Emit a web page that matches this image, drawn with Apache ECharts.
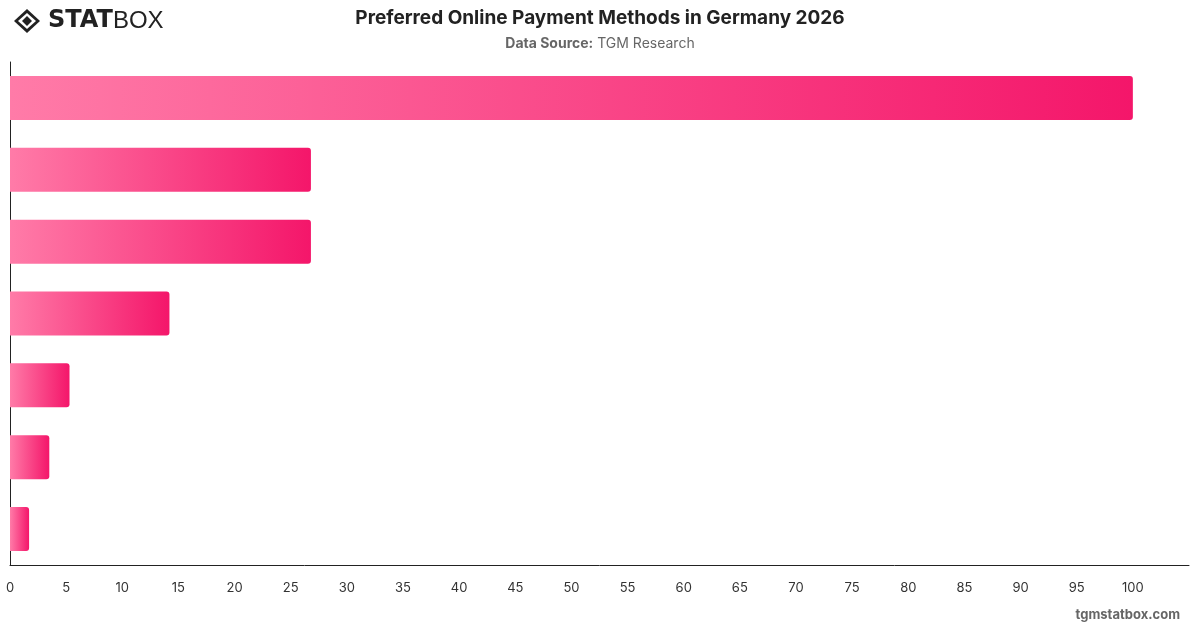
<!DOCTYPE html>
<html>
<head>
<meta charset="utf-8">
<script src="https://cdn.jsdelivr.net/npm/echarts@6/dist/echarts.min.js"></script>
<style>
    html, body { margin: 0; padding: 0; background: #fff; }
    #main { width: 1200px; height: 628px; }
</style>
</head>
<body>
<div id="main"></div>
<script>
// categories are not labelled in the picture
var categories = ['Method 1', 'Method 2', 'Method 3', 'Method 4', 'Method 5', 'Method 6', 'Method 7'];
var values = [100, 26.8, 26.8, 14.2, 5.3, 3.5, 1.7];
var tickLabels = ['0', '5', '10', '15', '20', '25', '30', '35', '40', '45', '50', '55', '60', '65', '70', '75', '80', '85', '90', '95', '100'];

var myChart = echarts.init(document.getElementById('main'));

var barColor = new echarts.graphic.LinearGradient(0, 0, 1, 0, [
    { offset: 0, color: '#ff7ba8' },
    { offset: 1, color: '#f4166a' }
]);

var option = {
    backgroundColor: '#fff',
    animation: false,
    title: {
        text: 'Preferred Online Payment Methods in Germany 2026',
        left: 'center',
        top: 4,
        textStyle: {
            fontFamily: 'Inter',
            fontSize: 19,
            fontWeight: 'bold',
            color: '#222'
        },
        subtext: '{b|Data Source:} TGM Research',
        itemGap: 9,
        subtextStyle: {
            fontFamily: 'Inter',
            fontSize: 14,
            color: '#666',
            rich: {
                b: { fontFamily: 'Inter', fontSize: 14, fontWeight: 'bold', color: '#666' }
            }
        }
    },
    graphic: [
        // logo icon
        {
            type: 'polygon',
            shape: { points: [[27, 9], [40, 21], [27, 33], [14, 21]] },
            style: { fill: '#222' }
        },
        {
            type: 'polygon',
            shape: { points: [[27, 13], [36, 21], [27, 29], [18, 21]] },
            style: { fill: '#fff' }
        },
        {
            type: 'polygon',
            shape: { points: [[27, 16], [32, 21], [27, 26], [22, 21]] },
            style: { fill: '#222' }
        },
        {
            type: 'text',
            left: 48,
            top: 9,
            style: {
                text: '{a|STAT}{b|BOX}',
                rich: {
                    a: { fontFamily: 'DejaVu Sans', fontSize: 24, fontWeight: 'bold', fill: '#222' },
                    b: { fontFamily: 'Liberation Sans', fontSize: 24, fontWeight: 'normal', fill: '#222' }
                }
            }
        },
        {
            type: 'text',
            right: 20,
            top: 609,
            style: {
                text: 'tgmstatbox.com',
                fontFamily: 'Inter',
                fontSize: 13,
                fontWeight: 'bold',
                fill: '#666'
            }
        }
    ],
    grid: {
        left: 10,
        right: 11,
        top: 62,
        bottom: 63,
        containLabel: false
    },
    xAxis: {
        type: 'value',
        min: 0,
        max: 105,
        interval: 5,
        splitLine: { show: false },
        axisLine: { show: true, lineStyle: { color: '#222', width: 1 } },
        axisTick: { show: false },
        axisLabel: {
            showMaxLabel: false,
            margin: 17,
            fontFamily: 'Inter',
            fontSize: 13,
            color: '#333',
            formatter: function(v) {
                var i = tickLabels.indexOf(String(v));
                return i >= 0 ? tickLabels[i] : '';
            }
        }
    },
    yAxis: {
        type: 'category',
        inverse: true,
        data: categories,
        axisLine: { show: true, lineStyle: { color: '#222', width: 1 } },
        axisTick: { show: false },
        axisLabel: { show: false },
        splitLine: { show: false }
    },
    series: [{
        type: 'bar',
        data: values,
        barWidth: 44,
        itemStyle: {
            color: barColor,
            borderRadius: [0, 3, 3, 0]
        }
    }]
};
myChart.setOption(option);
</script>
</body>
</html>
